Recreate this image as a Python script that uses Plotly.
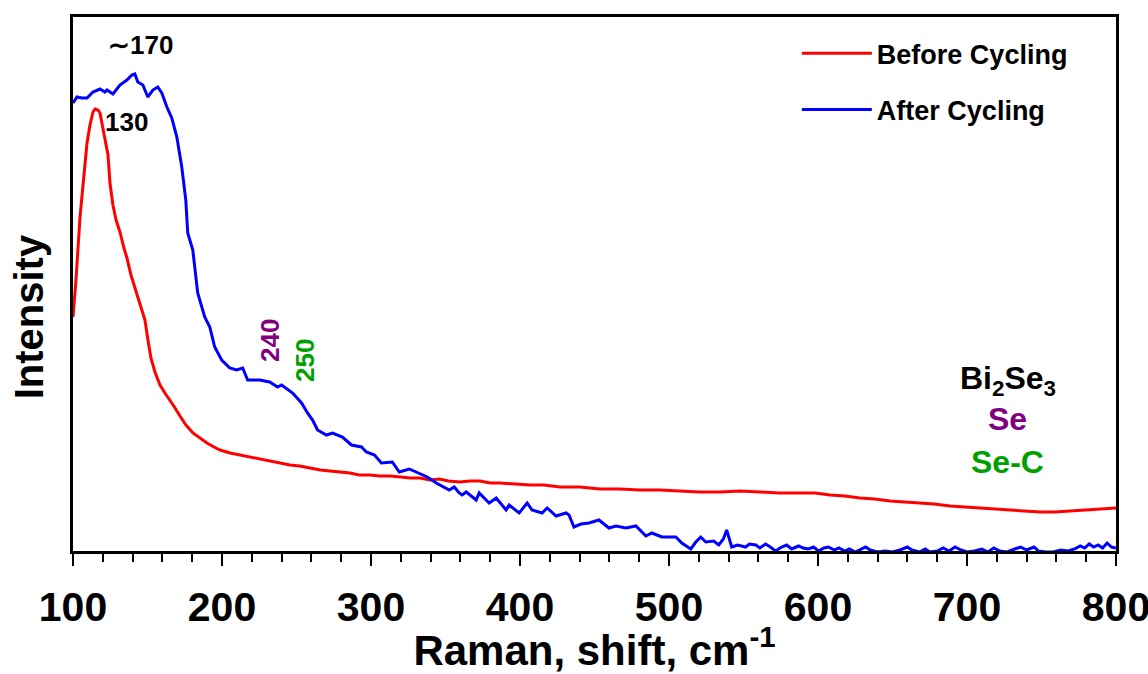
import plotly.graph_objects as go

# ---- Data (intensity in arbitrary units) ----
before_x = [100.0, 102.0, 104.7, 107.4, 109.4, 111.4, 113.4, 114.8, 116.8, 118.1,
            119.5, 121.5, 123.5, 124.8, 126.8, 128.9, 131.5, 134.2, 136.2, 138.9,
            141.6, 145.0, 148.3, 150.3, 152.3, 155.0, 158.4, 161.7, 165.1, 168.5,
            171.8, 175.8, 180.5, 185.2, 189.9, 194.6, 198.7, 205.4, 212.1, 218.8,
            226.8, 236.9, 245.6, 252.0, 259.1, 266.0, 272.5, 279.0, 285.9, 292.0,
            299.3, 306.0, 312.8, 320.0, 326.2, 333.0, 339.6, 346.0, 352.0, 359.7,
            366.0, 373.2, 380.0, 386.6, 396.0, 406.7, 416.0, 426.8, 440.0, 453.7,
            467.0, 480.5, 494.0, 507.4, 520.0, 534.2, 548.0, 561.1, 574.0, 587.9,
            598.0, 608.1, 618.0, 628.2, 638.0, 648.3, 658.0, 668.5, 678.0, 688.6,
            698.0, 708.7, 718.0, 728.9, 739.0, 749.0, 759.0, 769.1, 776.0, 782.6,
            791.0, 800.0]
before_y = [232, 269, 332, 379, 406, 424, 437, 440, 439, 436,
            424, 409, 394, 366, 344, 329, 317, 301, 291, 274,
            261, 244, 229, 209, 191, 177, 164, 156, 149, 141,
            133, 124, 116, 111, 106, 102, 99, 96, 94, 92,
            90, 87, 84, 83, 81, 79, 78, 77, 76, 74,
            74, 73, 73, 72, 71, 71, 69, 70, 68, 67,
            68, 68, 66, 66, 65, 64, 64, 62, 62, 60,
            60, 59, 59, 58, 57, 57, 58, 57, 56, 56,
            56, 54, 53, 51, 50, 48, 47, 46, 45, 43,
            42, 41, 40, 39, 38, 37, 37, 38, 38, 39,
            40, 41]

after_x = [100.0, 102.7, 106.0, 109.4, 113.4, 118.1, 121.4, 122.8, 126.8, 131.5,
           136.2, 139.5, 141.5, 143.5, 146.9, 150.2, 153.6, 156.9, 159.6, 163.0,
           166.3, 169.7, 173.0, 175.7, 177.0, 180.4, 183.7, 188.4, 191.8, 195.1,
           199.8, 205.2, 209.8, 213.9, 217.2, 225.3, 232.0, 237.3, 240.0, 247.4,
           253.4, 257.4, 260.8, 264.1, 270.1, 274.2, 280.8, 286.9, 293.6, 296.9,
           302.3, 307.0, 314.3, 319.0, 325.7, 332.4, 337.8, 343.8, 352.5, 355.9,
           359.2, 361.2, 363.9, 370.6, 372.6, 379.3, 384.0, 390.7, 392.7, 399.4,
           404.8, 408.1, 414.8, 418.2, 424.2, 430.9, 432.9, 436.2, 440.9, 446.3,
           453.0, 459.7, 464.4, 471.1, 477.8, 484.5, 488.5, 495.2, 504.6, 508.6,
           514.6, 518.0, 521.3, 524.7, 530.0, 533.4, 536.5, 538.7, 542.1, 546.0,
           551.4, 554.0, 558.2, 561.0, 564.8, 568.0, 571.5, 575.6, 579.0, 582.3,
           587.0, 590.0, 593.6, 597.0, 600.3, 604.0, 607.0, 611.0, 614.0, 618.0,
           621.0, 625.0, 628.0, 632.0, 635.0, 640.0, 645.0, 650.0, 655.0, 660.0,
           663.0, 668.0, 672.0, 675.0, 680.0, 684.0, 688.0, 692.0, 696.0, 700.0,
           705.0, 710.0, 714.0, 718.0, 722.0, 727.0, 732.0, 736.0, 740.0, 745.0,
           748.0, 753.0, 758.0, 763.0, 768.0, 772.0, 776.0, 779.0, 782.0, 785.0,
           788.0, 791.0, 794.0, 797.0, 800.0]
after_y = [446, 452, 451, 451, 457, 460, 457, 459, 455, 464,
           469, 474, 475, 467, 464, 452, 459, 462, 456, 442,
           431, 412, 382, 349, 316, 299, 256, 232, 222, 202,
           189, 181, 179, 181, 169, 169, 167, 162, 164, 156,
           146, 136, 129, 119, 114, 116, 112, 104, 102, 97,
           94, 86, 87, 77, 80, 76, 72, 66, 59, 62,
           56, 54, 57, 49, 56, 46, 51, 39, 44, 36,
           46, 39, 36, 41, 33, 36, 34, 22, 25, 26,
           29, 21, 23, 21, 23, 13, 16, 12, 12, 6,
           0, 7, 12, 7, 8, 4, 10, 19, 2, 4,
           2, 5, 4, 1, 5, 2, -2, 2, 4, 0,
           3, 1, 0, 2, -2, 1, 2, -1, 1, -2,
           0, -3, -1, 2, -1, -3, -2, -3, -1, 2,
           -1, -3, 0, -3, -2, 1, -2, 2, -1, -3,
           -2, 0, -3, 1, -2, -3, 0, 2, -1, 2,
           -2, -3, -3, -1, -2, 0, 3, 1, 5, 2,
           4, 1, 6, 2, 1]

FONT = "Arial, Liberation Sans, sans-serif"

fig = go.Figure()
fig.add_trace(go.Scatter(x=before_x, y=before_y, mode="lines", name="Before Cycling",
                         line=dict(color="#FF0000", width=3), legendgroup="a"))
fig.add_trace(go.Scatter(x=after_x, y=after_y, mode="lines", name="After Cycling",
                         line=dict(color="#0000FF", width=3), legendgroup="b"))

annos = [
    dict(x=145, y=504, text="∼170", color="black", angle=0, size=26),
    dict(x=136.2, y=427, text="130", color="black", angle=0, size=26),
    dict(x=232.2, y=209, text="240", color="#800080", angle=-90, size=26),
    dict(x=255.7, y=189, text="250", color="#00A000", angle=-90, size=26),
]
for a in annos:
    fig.add_annotation(x=a["x"], y=a["y"], xref="x", yref="y", text=a["text"],
                       showarrow=False, textangle=a["angle"],
                       font=dict(family=FONT, size=a["size"], color=a["color"], weight="bold"))

side = [
    ("Bi<sub>2</sub>Se<sub>3</sub>", "black", 169),
    ("Se", "#800080", 130),
    ("Se-C", "#00A000", 87),
]
for t, c, yy in side:
    fig.add_annotation(x=727.5, y=yy, xref="x", yref="y", text=t, showarrow=False,
                       font=dict(family=FONT, size=32, color=c, weight="bold"))

fig.add_annotation(x=-0.042, y=0.438, xref="paper", yref="paper", text="Intensity",
                   xanchor="center", yanchor="middle",
                   showarrow=False, textangle=-90,
                   font=dict(family=FONT, size=40, color="black", weight="bold"))

fig.update_layout(
    width=1148, height=674,
    margin=dict(l=73, r=32, t=17, b=123),
    paper_bgcolor="white", plot_bgcolor="white",
    font=dict(family=FONT, color="black"),
    showlegend=True,
    legend=dict(x=0.694, y=0.977, xanchor="left", yanchor="top",
                bgcolor="rgba(0,0,0,0)", borderwidth=0,
                font=dict(family=FONT, size=27, color="black", weight="bold"),
                itemwidth=70, tracegroupgap=18, traceorder="grouped"),
    xaxis=dict(range=[100, 800], showline=True, linecolor="black", linewidth=3,
               mirror=True, ticks="outside", ticklen=12, tickwidth=2, tickcolor="black",
               dtick=100, tick0=100, showgrid=False, zeroline=False, automargin=False,
               ticklabeloverflow="allow", ticklabelstandoff=6,
               tickfont=dict(family=FONT, size=41, color="black", weight="bold"),
               minor=dict(ticks="outside", ticklen=8, tickwidth=2, tickcolor="black",
                          dtick=20, tick0=100, showgrid=False),
               title=dict(text="Raman, shift, cm<sup>-1</sup>", standoff=7,
                          font=dict(family=FONT, size=42, color="black", weight="bold"))),
    yaxis=dict(range=[-2, 532], showline=True, linecolor="black", linewidth=3,
               mirror=True, ticks="", showticklabels=False, showgrid=False,
               zeroline=False, automargin=False),
)

fig.write_html("out.html", config={"displayModeBar": False},
               post_script="document.body.style.margin='0';")
